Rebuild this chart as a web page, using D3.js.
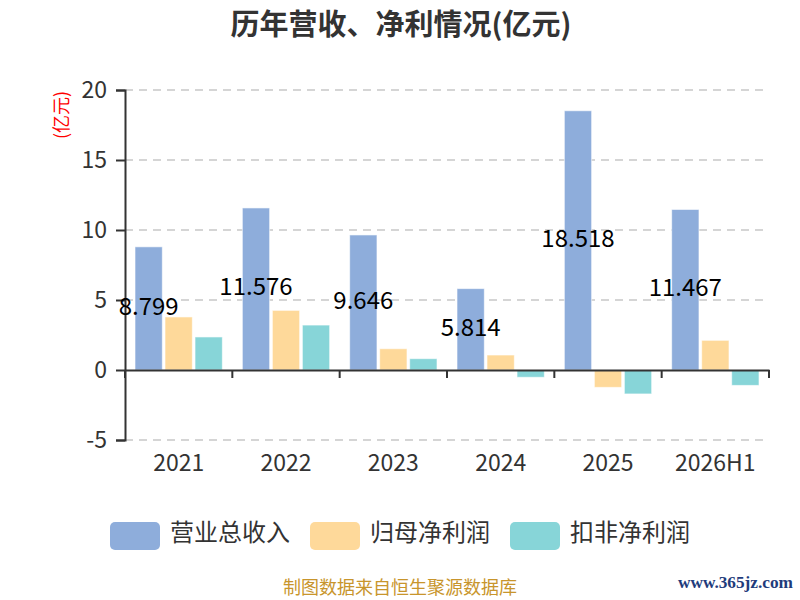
<!DOCTYPE html>
<html>
<head>
<meta charset="utf-8">
<script src="https://cdn.jsdelivr.net/npm/d3@7"></script>
<style>
  body { margin: 0; background: #fff; }
  text { font-family: "Noto Sans CJK SC", "Noto Sans", sans-serif; }
</style>
</head>
<body>
<div class="chart-container"></div>
<script>
const years = ['2021', '2022', '2023', '2024', '2025', '2026H1'];
const seriesNames = ['营业总收入', '归母净利润', '扣非净利润'];
const revenue = [8.799, 11.576, 9.646, 5.814, 18.518, 11.467];
const netProfit = [3.79, 4.26, 1.52, 1.07, -1.24, 2.12];
const deductedProfit = [2.36, 3.21, 0.81, -0.52, -1.71, -1.10];
const yTicks = [-5, 0, 5, 10, 15, 20];
const colors = ['#8eaddb', '#fed99a', '#87d5d8'];

const allSeries = [revenue, netProfit, deductedProfit];
const rows = years.map((yr, i) => ({
    year: yr,
    values: seriesNames.map((name, k) => ({ name: name, value: allSeries[k][i] }))
}));

const svg = d3.select('.chart-container')
    .append('svg')
    .attr('width', 800)
    .attr('height', 600);

const margin = { top: 90, right: 31, bottom: 160, left: 125 };
const width = 800 - margin.left - margin.right;
const height = 600 - margin.top - margin.bottom;

const x = d3.scaleBand()
    .domain(years)
    .range([margin.left, margin.left + width]);

const xs = d3.scaleBand()
    .domain(seriesNames)
    .range([10, x.bandwidth() - 10])
    .paddingInner(0.09);

const y = d3.scaleLinear()
    .domain([-5, 20])
    .range([margin.top + height, margin.top]);

// title
svg.append('text')
    .attr('x', 401)
    .attr('y', 35)
    .attr('text-anchor', 'middle')
    .style('font-size', '29px')
    .style('font-weight', 'bold')
    .style('fill', '#333')
    .text('历年营收、净利情况(亿元)');

// unit label
svg.append('text')
    .attr('transform', 'translate(63,115) rotate(-90)')
    .attr('text-anchor', 'middle')
    .attr('dominant-baseline', 'middle')
    .style('font-size', '18px')
    .style('fill', 'red')
    .text('(亿元)');

// grid
svg.append('g')
    .selectAll('line')
    .data(yTicks.filter(t => t !== 0))
    .enter()
    .append('line')
    .attr('x1', margin.left)
    .attr('x2', margin.left + width)
    .attr('y1', d => y(d))
    .attr('y2', d => y(d))
    .attr('stroke', '#c8c8c8')
    .attr('stroke-width', 1.5)
    .attr('stroke-dasharray', '8,6');

// bars
const groups = svg.append('g')
    .selectAll('g')
    .data(rows)
    .enter()
    .append('g')
    .attr('transform', d => `translate(${x(d.year)},0)`);

groups.selectAll('rect')
    .data(d => d.values)
    .enter()
    .append('rect')
    .attr('x', d => xs(d.name))
    .attr('width', xs.bandwidth())
    .attr('y', d => y(Math.max(0, d.value)))
    .attr('height', d => Math.abs(y(d.value) - y(0)))
    .attr('fill', (d, i) => colors[i])
    .attr('stroke', 'rgba(255,255,255,0.6)')
    .attr('stroke-width', 1);

// y axis
const yAxis = svg.append('g')
    .attr('transform', `translate(${margin.left},0)`)
    .call(d3.axisLeft(y).tickValues(yTicks).tickSize(9).tickPadding(9)
        .tickFormat(d => String(d)));
yAxis.select('.domain').attr('stroke', '#333').attr('stroke-width', 2);
yAxis.selectAll('.tick line').attr('stroke', '#333').attr('stroke-width', 2);
yAxis.selectAll('.tick text')
    .style('font-size', '23px')
    .style('fill', '#333')
    .style('font-family', '"Noto Sans CJK SC", sans-serif');

// x axis at zero
const xAxis = svg.append('g')
    .attr('transform', `translate(0,${y(0)})`)
    .call(d3.axisBottom(x).tickSize(0).tickFormat(''));
xAxis.select('.domain').attr('stroke', '#333').attr('stroke-width', 2);

svg.append('g')
    .selectAll('line')
    .data(years.concat(['end']))
    .enter()
    .append('line')
    .attr('x1', (d, i) => x.range()[0] + i * x.step())
    .attr('x2', (d, i) => x.range()[0] + i * x.step())
    .attr('y1', y(0))
    .attr('y2', y(0) + 8)
    .attr('stroke', '#333')
    .attr('stroke-width', 2);

// category labels at bottom
svg.append('g')
    .selectAll('text')
    .data(years)
    .enter()
    .append('text')
    .attr('x', d => x(d) + x.bandwidth() / 2)
    .attr('y', 465)
    .attr('text-anchor', 'middle')
    .attr('dominant-baseline', 'middle')
    .style('font-size', '23px')
    .style('fill', '#333')
    .text(d => d);

// revenue value labels
svg.append('g')
    .selectAll('text')
    .data(rows)
    .enter()
    .append('text')
    .attr('x', d => x(d.year) + xs(seriesNames[0]) + xs.bandwidth() / 2)
    .attr('y', d => y(d.values[0].value / 2))
    .attr('text-anchor', 'middle')
    .attr('dominant-baseline', 'middle')
    .style('font-size', '24px')
    .style('fill', '#000')
    .text(d => d.values[0].value.toFixed(3));

// legend
const legend = svg.append('g')
    .selectAll('g')
    .data(seriesNames)
    .enter()
    .append('g')
    .attr('transform', (d, i) => `translate(${110 + i * 200},522)`);

legend.append('rect')
    .attr('width', 50)
    .attr('height', 28)
    .attr('rx', 5)
    .attr('fill', (d, i) => colors[i]);

legend.append('text')
    .attr('x', 60)
    .attr('y', 12)
    .attr('dominant-baseline', 'middle')
    .style('font-size', '24px')
    .style('fill', '#333')
    .text(d => d);

// footer
svg.append('text')
    .attr('x', 400)
    .attr('y', 589)
    .attr('text-anchor', 'middle')
    .attr('dominant-baseline', 'middle')
    .style('font-size', '18px')
    .style('fill', '#c8952c')
    .text('制图数据来自恒生聚源数据库');

svg.append('text')
    .attr('x', 678)
    .attr('y', 584)
    .attr('dominant-baseline', 'middle')
    .attr('textLength', 115)
    .attr('lengthAdjust', 'spacingAndGlyphs')
    .style('font-family', '"Liberation Serif", serif')
    .style('font-size', '17px')
    .style('font-weight', 'bold')
    .style('fill', '#1f3c7c')
    .text('www.365jz.com');
</script>
</body>
</html>
